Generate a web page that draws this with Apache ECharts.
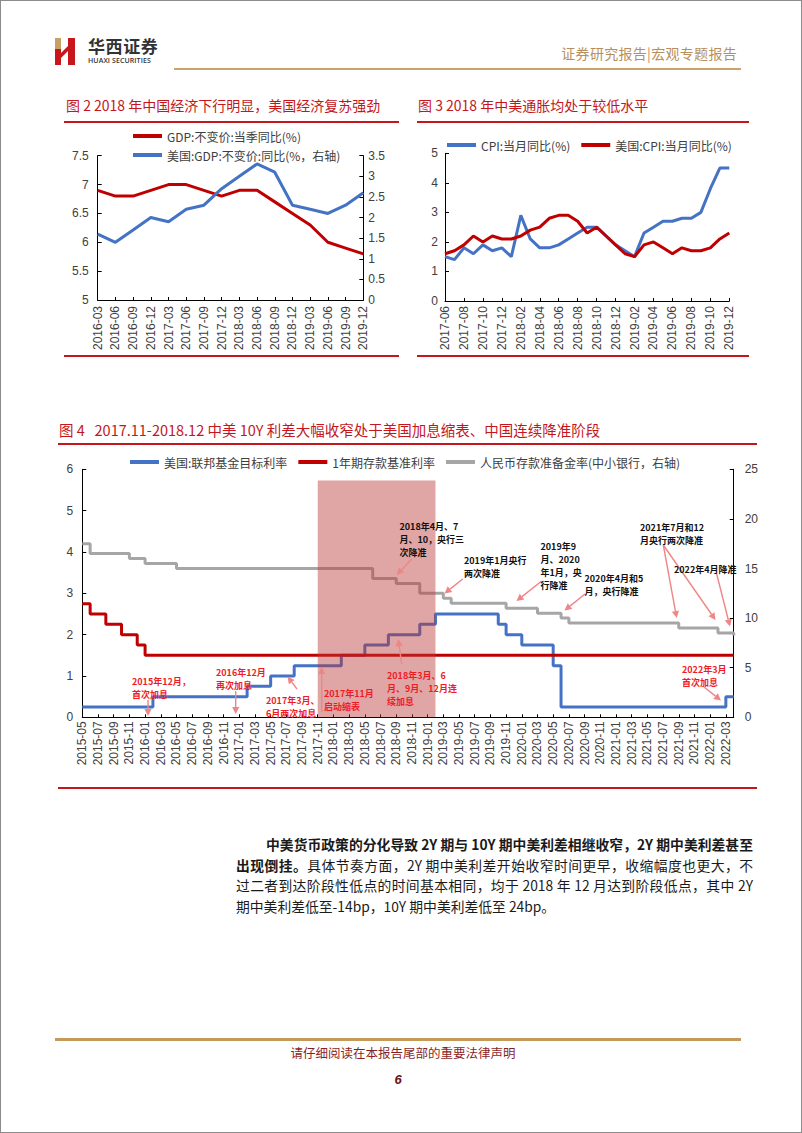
<!DOCTYPE html>
<html>
<head>
<meta charset="utf-8">
<script src="https://cdn.jsdelivr.net/npm/echarts@6/dist/echarts.min.js"></script>
<style>
html,body{margin:0;padding:0;width:802px;height:1133px;background:#fff;overflow:hidden;}
#chart{position:absolute;left:0;top:0;width:802px;height:1133px;z-index:1;}
.t{position:absolute;white-space:nowrap;font-family:"Noto Sans CJK SC",sans-serif;z-index:2;}
.rule{position:absolute;z-index:2;}
.frame{position:absolute;left:0;top:0;width:800px;height:1131px;border:1px solid #8c8c8c;z-index:3;pointer-events:none;}
.p{position:absolute;font-family:"Noto Sans CJK SC",sans-serif;font-size:13.8px;line-height:20px;height:20px;color:#1a1a1a;white-space:nowrap;text-align:justify;text-align-last:justify;z-index:2;}
.p.last{text-align:left;text-align-last:left;}
.title{color:#c4161c;font-size:14px;line-height:20px;height:20px;}
</style>
</head>
<body>
<div id="chart"></div>

<!-- header -->
<svg class="t" style="left:53px;top:36px" width="26" height="30" viewBox="53 36 26 30">
  <rect x="55" y="38" width="6" height="11" fill="#c9a064"/>
  <rect x="55" y="49" width="6" height="16" fill="#c8161d"/>
  <polygon points="61,53 68,46 68,51 61,58" fill="#c8161d"/>
  <rect x="68" y="38" width="7" height="27" fill="#c8161d"/>
</svg>
<div class="t" style="left:88px;top:35px;font-size:17px;line-height:21px;font-weight:bold;color:#333;letter-spacing:0.6px">华西证券</div>
<div class="t" style="left:88px;top:56px;font-size:7px;line-height:9px;color:#333;font-family:'Open Sans','Liberation Sans',sans-serif;font-weight:600;letter-spacing:0.1px">HUAXI SECURITIES</div>
<div class="t" style="right:65px;top:44px;font-size:14px;line-height:19px;color:#b78f5e;letter-spacing:0.3px">证券研究报告<span style="color:#b78f5e">|</span>宏观专题报告</div>
<div class="rule" style="left:174px;top:68px;width:567px;height:2px;background:#c9a36a"></div>

<!-- chart titles -->
<div class="t title" style="left:66px;top:95px">图 2 2018 年中国经济下行明显，美国经济复苏强劲</div>
<div class="rule" style="left:64px;top:121px;width:335px;height:2px;background:#c4161c"></div>
<div class="rule" style="left:64px;top:355px;width:335px;height:2px;background:#c4161c"></div>
<div class="t title" style="left:418px;top:95px">图 3 2018 年中美通胀均处于较低水平</div>
<div class="rule" style="left:417px;top:121px;width:332px;height:2px;background:#c4161c"></div>
<div class="rule" style="left:417px;top:355px;width:332px;height:2px;background:#c4161c"></div>

<div class="t title" style="left:59px;top:420px;font-size:14.5px">图 4&nbsp;&nbsp;&nbsp;2017.11-2018.12 中美 10Y 利差大幅收窄处于美国加息缩表、中国连续降准阶段</div>
<div class="rule" style="left:58px;top:443px;width:699px;height:2px;background:#c4161c"></div>
<div class="rule" style="left:58px;top:787px;width:699px;height:2px;background:#c4161c"></div>

<!-- paragraph -->
<div class="p" style="left:266px;top:834px;width:487px"><b>中美货币政策的分化导致 2Y 期与 10Y 期中美利差相继收窄，2Y 期中美利差甚至</b></div>
<div class="p" style="left:236px;top:854.5px;width:517px"><b>出现倒挂。</b>具体节奏方面，2Y 期中美利差开始收窄时间更早，收缩幅度也更大，不</div>
<div class="p" style="left:236px;top:875px;width:517px">过二者到达阶段性低点的时间基本相同，均于 2018 年 12 月达到阶段低点，其中 2Y</div>
<div class="p last" style="left:236px;top:895.5px">期中美利差低至-14bp，10Y 期中美利差低至 24bp。</div>

<!-- footer -->
<div class="rule" style="left:55px;top:1038px;width:686px;height:3px;background:#c49a5c"></div>
<div class="t" style="left:0;width:806px;text-align:center;top:1044px;font-size:12.5px;line-height:18px;color:#8b1f1f">请仔细阅读在本报告尾部的重要法律声明</div>
<div class="t" style="left:0;width:796px;text-align:center;top:1071px;font-size:13px;line-height:18px;color:#6b0f0f;font-weight:bold;font-style:italic;font-family:'Liberation Sans',sans-serif">6</div>

<div class="frame"></div>

<script>
// ---------- data: Figure 2 (quarterly GDP yoy) ----------
const gdpQuarters = ['2016-03','2016-06','2016-09','2016-12','2017-03','2017-06','2017-09','2017-12',
                     '2018-03','2018-06','2018-09','2018-12','2019-03','2019-06','2019-09','2019-12'];
const cnGdp = [6.9,6.8,6.8,6.9,7.0,7.0,6.9,6.8,6.9,6.9,6.7,6.5,6.3,6.0,5.9,5.8];
const usGdp = [1.6,1.4,1.7,2.0,1.9,2.2,2.3,2.7,3.0,3.3,3.1,2.3,2.2,2.1,2.3,2.6];
const gdpLeftTicks = [5, 7.5, 0.5];
const gdpRightTicks = [0, 3.5, 0.5];

// ---------- data: Figure 3 (monthly CPI yoy) ----------
const cnCpi = [1.5,1.4,1.8,1.6,1.9,1.7,1.8,
               1.5,2.9,2.1,1.8,1.8,1.9,2.1,2.3,2.5,2.5,2.2,1.9,
               1.7,1.5,2.3,2.5,2.7,2.7,2.8,2.8,3.0,3.8,4.5,4.5];
const usCpi = [1.6,1.7,1.9,2.2,2.0,2.2,2.1,
               2.1,2.2,2.4,2.5,2.8,2.9,2.9,2.7,2.3,2.5,2.2,1.9,
               1.6,1.5,1.9,2.0,1.8,1.6,1.8,1.7,1.7,1.8,2.1,2.3];
const cpiTicks = [0, 5, 1];

// ---------- data: Figure 4 (monthly policy rates, 2015-05 .. 2022-04) ----------
const fedRate = [0.25,0.25,0.25,0.25,0.25,0.25,0.25,0.25,0.25,
  0.5,0.5,0.5,0.5,0.5,0.5,0.5,0.5,0.5,0.5,0.5,0.5,
  0.75,0.75,0.75, 1,1,1, 1.25,1.25,1.25,1.25,1.25,1.25, 1.5,1.5,1.5, 1.75,1.75,1.75,
  2,2,2,2, 2.25,2.25, 2.5,2.5,2.5,2.5,2.5,2.5,2.5,2.5, 2.25, 2,2, 1.75,1.75,1.75,1.75, 1.25,
  0.25,0.25,0.25,0.25,0.25,0.25,0.25,0.25,0.25,0.25,0.25,0.25,0.25,0.25,0.25,0.25,0.25,0.25,0.25,0.25,0.25,
  0.5,0.5];
const depositRate = [2.75, 2.5,2.5, 2.25,2.25, 2,2, 1.75,
  1.5,1.5,1.5,1.5,1.5,1.5,1.5,1.5,1.5,1.5,1.5,1.5,1.5,1.5,1.5,1.5,1.5,1.5,1.5,1.5,
  1.5,1.5,1.5,1.5,1.5,1.5,1.5,1.5,1.5,1.5,1.5,1.5,1.5,1.5,1.5,1.5,1.5,1.5,1.5,1.5,
  1.5,1.5,1.5,1.5,1.5,1.5,1.5,1.5,1.5,1.5,1.5,1.5,1.5,1.5,1.5,1.5,1.5,1.5,1.5,1.5,
  1.5,1.5,1.5,1.5,1.5,1.5,1.5,1.5,1.5,1.5,1.5,1.5,1.5,1.5,1.5,1.5];
const rrrSmall = [17.5, 16.5,16.5,16.5,16.5,16.5, 16,16, 15.5,15.5,15.5,15.5,
  15,15,15,15,15,15,15,15,15,15,15,15,15,15,15,15,15,15,15,15,15,15,15,15,15,
  14,14,14, 13.5,13.5,13.5, 12.5,12.5,12.5, 12, 11.5,11.5,11.5,11.5,11.5,11.5,11.5,
  11,11,11,11, 10.5,10.5,10.5, 10, 9.5,9.5,9.5,9.5,9.5,9.5,9.5,9.5,9.5,9.5,9.5,9.5,9.5,9.5,
  9,9,9,9,9, 8.5,8.5, 8.25];
const rateLeftTicks = [0, 6, 1];
const rateRightTicks = [0, 25, 5];
const shadeStart = '2017-11', shadeEnd = '2019-02', shadeTop = 5.73;

function monthRange(a, b) {
  let [y, m] = a.split('-').map(Number);
  const [ye, me] = b.split('-').map(Number);
  const out = [];
  while (y < ye || (y === ye && m <= me)) {
    out.push(y + '-' + String(m).padStart(2, '0'));
    m++; if (m > 12) { m = 1; y++; }
  }
  return out;
}
const cpiMonths = monthRange('2017-06', '2019-12');
const rateMonths = monthRange('2015-05', '2022-04');

// ---------- annotations of Figure 4 ----------
const RED_TXT = '#ee1c25', BLK_TXT = '#111';
const notes = [
  {t:'2015年12月，\n首次加息', x:132, y:675, c:RED_TXT, a:[[148,700,148,716]]},
  {t:'2016年12月\n再次加息', x:216, y:665.5, c:RED_TXT, a:[[235.7,691,235.7,714]]},
  {t:'2017年3月、\n6月两次加息', x:266, y:693.5, c:RED_TXT, a:[[297,689,287.5,676.5]]},
  {t:'2017年11月\n启动缩表', x:324, y:686.5, c:RED_TXT, a:[[321.7,712,321.7,667]]},
  {t:'2018年3月、6\n月、9月、12月连\n续加息', x:387, y:668.5, c:RED_TXT, a:[[401.7,664,398.3,639]]},
  {t:'2018年4月、7\n月、10，央行三\n次降准', x:399.5, y:520, c:BLK_TXT, a:[[411.7,559,396.7,575]]},
  {t:'2019年1月央行\n两次降准', x:464, y:554, c:BLK_TXT, a:[[462.7,579,444.5,593.5]]},
  {t:'2019年9\n月、2020\n年1月，央\n行降准', x:540.5, y:539.5, c:BLK_TXT, a:[[541.7,581,516.5,601]]},
  {t:'2020年4月和5\n月，央行降准', x:584.5, y:571.8, c:BLK_TXT, a:[[585,594,564.5,610.5]]},
  {t:'2021年7月和12\n月央行两次降准', x:640, y:520.5, c:BLK_TXT, a:[[663.3,545,676.7,618],[663.3,545,715.5,620]]},
  {t:'2022年4月降准', x:674, y:562.5, c:BLK_TXT, a:[[716.7,574,730,626.5]]},
  {t:'2022年3月\n首次加息', x:682, y:662.8, c:RED_TXT, a:[[704,687,721,700.5]]}
];
const ARROW = '#f08585';
function arrowEls(x1, y1, x2, y2) {
  const dx = x2 - x1, dy = y2 - y1, L = Math.hypot(dx, dy);
  const ux = dx / L, uy = dy / L, hl = 7, hw = 3.6;
  const bx = x2 - ux * hl, by = y2 - uy * hl;
  return [
    {type:'line', z:100, silent:true, shape:{x1:x1, y1:y1, x2:bx, y2:by}, style:{stroke:ARROW, lineWidth:1.4}},
    {type:'polygon', z:100, silent:true, shape:{points:[[x2,y2],[bx - uy*hw, by + ux*hw],[bx + uy*hw, by - ux*hw]]}, style:{fill:ARROW}}
  ];
}
const graphicEls = [];
notes.forEach(n => {
  graphicEls.push({type:'text', z:101, silent:true, x:n.x, y:n.y,
    style:{text:n.t, fill:n.c, font:'bold 9px "Noto Sans CJK SC"', lineHeight:13.1, align:'left', verticalAlign:'top'}});
  n.a.forEach(a => graphicEls.push(...arrowEls(a[0], a[1], a[2], a[3])));
});

// ---------- chart ----------
const RED = '#c00000', BLUE = '#4472c4', GRAY = '#a6a6a6';
const AX = '#000';
const LBL = {color:'#404040', fontSize:12, fontFamily:'"Liberation Sans", Arial, sans-serif'};
const CJK = '"Noto Sans CJK SC", sans-serif';

function xCat(grid, data, interval, margin) {
  return {type:'category', gridIndex:grid, data:data, boundaryGap:false,
    axisLine:{lineStyle:{color:AX, width:1}},
    axisTick:{inside:true, length:3, interval:interval, lineStyle:{color:AX}},
    axisLabel:Object.assign({rotate:90, interval:interval, margin:margin}, LBL),
    splitLine:{show:false}};
}
function yVal(grid, ticks, pos, margin) {
  return {type:'value', gridIndex:grid, position:pos, min:ticks[0], max:ticks[1], interval:ticks[2],
    axisLine:{show:true, lineStyle:{color:AX, width:1}},
    axisTick:{show:true, inside:true, length:4, lineStyle:{color:AX}},
    axisLabel:Object.assign({margin:margin}, LBL),
    splitLine:{show:false}};
}
const legendBase = {icon:'rect', itemWidth:29, itemHeight:4, padding:0,
  textStyle:{color:'#404040', fontSize:12, fontFamily:CJK, lineHeight:14}, selectedMode:false};

const option = {
  animation:false,
  backgroundColor:'transparent',
  grid:[
    {left:97.7, top:155.7, width:265.6, height:144.3, outerBoundsMode:'none', containLabel:false},
    {left:445, top:153.3, width:284.3, height:147.7, outerBoundsMode:'none', containLabel:false},
    {left:82.3, top:469.3, width:651.4, height:248, outerBoundsMode:'none', containLabel:false}
  ],
  legend:[
    Object.assign({}, legendBase, {left:133, top:129, orient:'vertical', itemGap:5,
      data:['GDP:不变价:当季同比(%)', '美国:GDP:不变价:同比(%，右轴)']}),
    Object.assign({}, legendBase, {left:447, top:138, orient:'horizontal', itemGap:11,
      data:['CPI:当月同比(%)', '美国:CPI:当月同比(%)']}),
    Object.assign({}, legendBase, {left:130, top:455, orient:'horizontal', itemGap:11,
      data:['美国:联邦基金目标利率', '1年期存款基准利率', '人民币存款准备金率(中小银行，右轴)']})
  ],
  xAxis:[
    xCat(0, gdpQuarters, 0, 6),
    xCat(1, cpiMonths, 1, 5),
    xCat(2, rateMonths, 1, 4)
  ],
  yAxis:[
    yVal(0, gdpLeftTicks, 'left', 9),
    yVal(0, gdpRightTicks, 'right', 5),
    yVal(1, cpiTicks, 'left', 7),
    yVal(2, rateLeftTicks, 'left', 9),
    yVal(2, rateRightTicks, 'right', 11)
  ],
  series:[
    {name:'GDP:不变价:当季同比(%)', type:'line', xAxisIndex:0, yAxisIndex:0, data:cnGdp,
      symbol:'none', lineStyle:{color:RED, width:3}, itemStyle:{color:RED}},
    {name:'美国:GDP:不变价:同比(%，右轴)', type:'line', xAxisIndex:0, yAxisIndex:1, data:usGdp,
      symbol:'none', lineStyle:{color:BLUE, width:3}, itemStyle:{color:BLUE}},
    {name:'CPI:当月同比(%)', type:'line', xAxisIndex:1, yAxisIndex:2, data:cnCpi,
      symbol:'none', lineStyle:{color:BLUE, width:3}, itemStyle:{color:BLUE}},
    {name:'美国:CPI:当月同比(%)', type:'line', xAxisIndex:1, yAxisIndex:2, data:usCpi,
      symbol:'none', lineStyle:{color:RED, width:3}, itemStyle:{color:RED}},
    {name:'美国:联邦基金目标利率', type:'line', xAxisIndex:2, yAxisIndex:3, data:fedRate, step:'end',
      symbol:'none', lineStyle:{color:BLUE, width:3}, itemStyle:{color:BLUE},
      markArea:{silent:true, z:10, itemStyle:{color:'rgba(186,55,55,0.45)'},
        data:[[{xAxis:shadeStart, yAxis:0}, {xAxis:shadeEnd, yAxis:shadeTop}]]}},
    {name:'1年期存款基准利率', type:'line', xAxisIndex:2, yAxisIndex:3, data:depositRate, step:'end',
      symbol:'none', lineStyle:{color:RED, width:3}, itemStyle:{color:RED}},
    {name:'人民币存款准备金率(中小银行，右轴)', type:'line', xAxisIndex:2, yAxisIndex:4, data:rrrSmall, step:'end',
      symbol:'none', lineStyle:{color:GRAY, width:3}, itemStyle:{color:GRAY}}
  ],
  graphic:{elements:graphicEls}
};

const chart = echarts.init(document.getElementById('chart'), null, {renderer:'svg', width:802, height:1133});
chart.setOption(option);
</script>
</body>
</html>
